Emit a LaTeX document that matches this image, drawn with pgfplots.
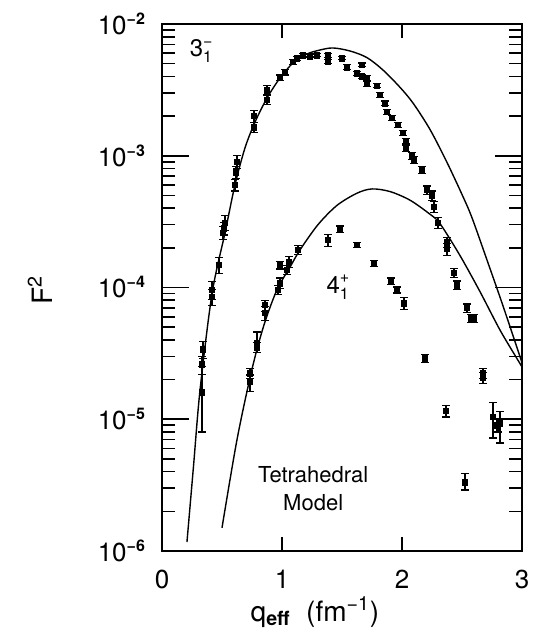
\documentclass[border=0pt]{standalone}
\usepackage{fontspec}
\setmainfont{TeX Gyre Heros}
\usepackage{amsmath}
\usepackage{pgfplots}
\usepackage{pgfplotstable}
\pgfplotsset{compat=1.18}
\pgfplotstableread{
x y ep em
0.333 1.6e-5 9e-6 8e-6
0.333 2.6e-5 4e-6 4e-6
0.342 3.4e-5 5e-6 5e-6
0.417 9.6e-5 1.5e-5 1.5e-5
0.417 8.5e-5 1.2e-5 1.2e-5
0.475 1.48e-4 2e-5 2e-5
0.508 2.6e-4 3e-5 3e-5
0.517 2.8e-4 3e-5 3e-5
0.525 3.1e-4 4e-5 4e-5
0.608 6.0e-4 6e-5 6e-5
0.617 7.5e-4 8e-5 8e-5
0.625 9.0e-4 1e-4 1e-4
0.767 1.65e-3 1.5e-4 1.5e-4
0.767 2.0e-3 2e-4 2e-4
0.875 2.65e-3 2e-4 2e-4
0.875 3.15e-3 2.5e-4 2.5e-4
0.983 3.9e-3 2e-4 2e-4
1.025 4.3e-3 2e-4 2e-4
1.092 5.15e-3 2e-4 2e-4
1.125 5.5e-3 2e-4 2e-4
1.175 5.8e-3 1.5e-4 1.5e-4
1.233 5.7e-3 1.5e-4 1.5e-4
1.292 5.8e-3 1.5e-4 1.5e-4
1.383 5.8e-3 2e-4 2e-4
1.383 5.2e-3 2e-4 2e-4
1.500 5.5e-3 1.5e-4 1.5e-4
1.542 4.7e-3 2e-4 2e-4
1.667 4.9e-3 1.5e-4 1.5e-4
1.625 4.2e-3 1.5e-4 1.5e-4
1.667 4.0e-3 1.5e-4 1.5e-4
1.708 3.9e-3 1.5e-4 1.5e-4
1.708 3.5e-3 1.5e-4 1.5e-4
1.792 3.4e-3 1.2e-4 1.2e-4
1.817 2.9e-3 1.2e-4 1.2e-4
1.858 2.5e-3 1e-4 1e-4
1.875 2.15e-3 1e-4 1e-4
1.917 1.94e-3 8e-5 8e-5
1.967 1.71e-3 8e-5 8e-5
2.008 1.49e-3 7e-5 7e-5
2.033 1.27e-3 8e-5 8e-5
2.033 1.15e-3 8e-5 8e-5
2.083 1.0e-3 6e-5 6e-5
2.100 9.3e-4 6e-5 6e-5
2.167 7.8e-4 5e-5 5e-5
2.208 5.5e-4 4e-5 4e-5
2.250 5.0e-4 4e-5 4e-5
2.267 4.1e-4 4e-5 4e-5
2.300 3.1e-4 3e-5 3e-5
2.375 2.2e-4 2e-5 2e-5
2.375 1.96e-4 2e-5 2e-5
2.433 1.29e-4 1e-5 1e-5
2.458 1.04e-4 8e-6 8e-6
2.542 7.0e-5 5e-6 5e-6
2.575 5.8e-5 4e-6 4e-6
2.600 5.8e-5 4e-6 4e-6
2.675 2.24e-5 2e-6 2e-6
2.675 2.06e-5 2e-6 2e-6
2.758 1.04e-5 3e-6 3.2e-6
2.790 9.0e-6 1e-6 1e-6
2.800 9.0e-6 1e-6 1e-6
2.817 9.3e-6 2.2e-6 2.7e-6
0.733 1.92e-5 2.5e-6 3e-6
0.733 2.24e-5 2e-6 2e-6
0.792 3.5e-5 3e-6 3e-6
0.792 3.8e-5 8e-6 6e-6
0.858 6.4e-5 8e-6 8e-6
0.858 7.4e-5 6e-6 8e-6
0.967 9.6e-5 8e-6 8e-6
0.983 1.08e-4 1e-5 1e-5
0.983 1.48e-4 1e-5 1e-5
1.042 1.36e-4 1e-5 1e-5
1.058 1.56e-4 1.5e-5 1.5e-5
1.133 1.93e-4 1.5e-5 1.5e-5
1.383 2.29e-4 2.5e-5 2.5e-5
1.483 2.78e-4 1.5e-5 1.5e-5
1.625 2.1e-4 1e-5 1e-5
1.767 1.53e-4 8e-6 8e-6
1.908 1.12e-4 6e-6 6e-6
1.958 9.6e-5 5e-6 5e-6
2.017 7.6e-5 8e-6 8e-6
2.192 2.9e-5 2e-6 2e-6
2.367 1.16e-5 1.2e-6 1.2e-6
2.525 3.3e-6 6e-7 4e-7
}\datatab
\pgfplotstableread{
x y
0.208 1.17e-6
0.2625 4.4e-6
0.317 1.67e-5
0.417 9.0e-5
0.525 2.6e-4
0.608 6.0e-4
0.692 1.15e-3
0.775 1.80e-3
0.875 2.74e-3
0.983 3.89e-3
1.092 5.06e-3
1.208 5.92e-3
1.317 6.35e-3
1.425 6.58e-3
1.567 6.24e-3
1.708 5.56e-3
1.842 4.47e-3
1.983 3.31e-3
2.092 2.51e-3
2.233 1.585e-3
2.375 8.9e-4
2.508 4.9e-4
2.583 3.39e-4
2.708 1.62e-4
2.842 7.24e-5
3.000 2.69e-5
}\curvethree
\pgfplotstableread{
x y
0.500 1.5e-6
0.625 7.0e-6
0.750 2.4e-5
0.850 5.2e-5
0.958 9.6e-5
1.067 1.43e-4
1.150 1.93e-4
1.300 3.0e-4
1.458 4.2e-4
1.625 5.2e-4
1.750 5.6e-4
1.900 5.35e-4
2.067 4.6e-4
2.233 3.6e-4
2.317 3.05e-4
2.483 1.75e-4
2.650 9.3e-5
2.817 4.75e-5
2.967 2.8e-5
3.000 2.5e-5
}\curvefour
\newcommand{\expo}[1]{\raisebox{5pt}{\fontsize{8}{9}\selectfont\bfseries #1}}
\begin{document}
\begin{tikzpicture}
\path[use as bounding box] (-81pt,-42.5pt) rectangle (185pt,275.5pt);
\begin{axis}[
  at={(0,0)}, anchor=south west,
  scale only axis, width=180pt, height=263.5pt,
  xmin=0, xmax=3, ymin=1e-6, ymax=1e-2, ymode=log,
  axis line style={line width=1pt},
  xtick={0,1,2,3}, xticklabels={0,1,2,3},
  ytick={1e-6,1e-5,1e-4,1e-3,1e-2},
  yticklabels={10\expo{−6},10\expo{−5},10\expo{−4},10\expo{−3},10\expo{−2}},
  major tick length=13.5pt, minor tick length=6.5pt,
  xtick style={/pgfplots/major tick length=7pt},
  tick style={line width=0.8pt, black},
  tick label style={font=\fontsize{13}{15}\selectfont},
  xticklabel style={yshift=-6pt},
  yticklabel style={xshift=-5pt},
  xlabel={q\textsubscript{\bfseries eff}\ \ (fm\textsuperscript{−1})},
  xlabel style={font=\fontsize{14}{16}\selectfont, at={(axis description cs:0.425,-0.116)}, anchor=center},
  ylabel={F\textsuperscript{2}},
  ylabel style={font=\fontsize{14}{16}\selectfont, at={(axis description cs:-0.339,0.495)}, anchor=center},
  clip=false,
]
\addplot[black, line width=0.7pt, smooth] table[x=x,y=y]{\curvethree};
\addplot[black, line width=0.7pt, smooth] table[x=x,y=y]{\curvefour};
\addplot[only marks, mark=square*, mark size=1.4pt, black,
  error bars/.cd, y dir=both, y explicit,
  error bar style={line width=0.6pt, black},
  error mark options={rotate=90, mark size=1.8pt, line width=0.6pt, black}]
  table[x=x, y=y, y error plus=ep, y error minus=em]{\datatab};
\node[font=\fontsize{12}{14}\selectfont] at (axis cs:0.33,6.2e-3) {$\text{3}^{\text{−}}_{\text{1}}$};
\node[font=\fontsize{12}{14}\selectfont] at (axis cs:1.47,1.0e-4) {$\text{4}^{\text{+}}_{\text{1}}$};
\node[font=\fontsize{11}{14}\selectfont, align=center] at (axis cs:1.26,3.0e-6) {Tetrahedral\\Model};
\end{axis}
\end{tikzpicture}
\end{document}
